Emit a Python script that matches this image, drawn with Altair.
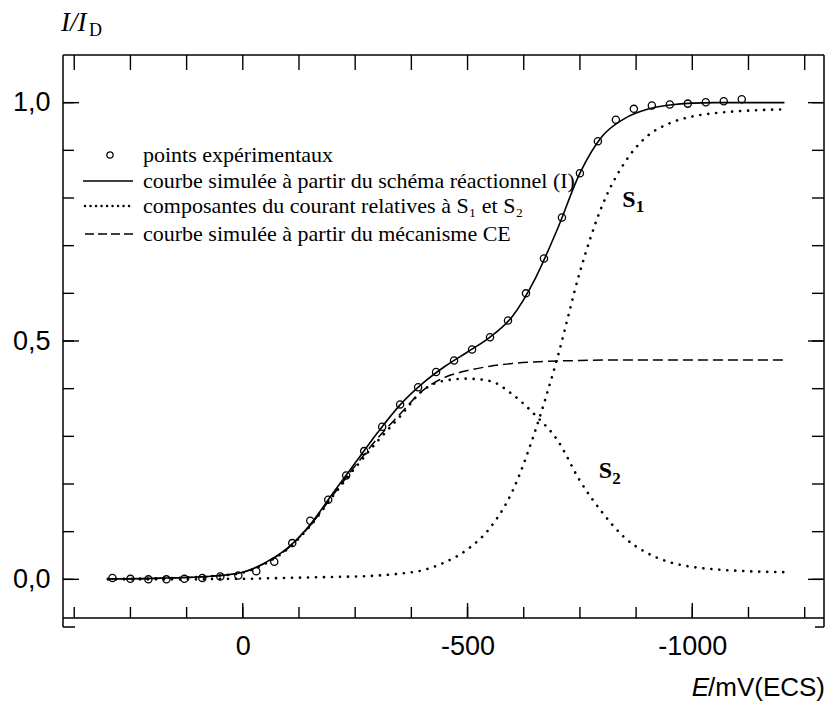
import altair as alt
import pandas as pd

# ---------------- data ----------------
# experimental points (E in mV vs ECS, I/ID)
E_PTS = [290, 250, 210, 170, 130, 90, 50, 10, -30, -70, -110, -150, -190, -230,
         -270, -310, -350, -390, -430, -470, -510, -550, -590, -630, -670, -710,
         -750, -790, -830, -870, -910, -950, -990, -1030, -1070, -1110]
I_PTS = [0.003, 0.001, 0.000, 0.000, 0.001, 0.003, 0.006, 0.008, 0.017, 0.037,
         0.076, 0.123, 0.167, 0.218, 0.269, 0.320, 0.367, 0.403, 0.435, 0.459,
         0.482, 0.508, 0.543, 0.600, 0.673, 0.759, 0.852, 0.919, 0.964, 0.987,
         0.994, 0.996, 0.998, 1.001, 1.003, 1.007]

# simulated curves, sampled along E
E_CURVE = [300, 200, 100, 50, 0, -50, -100, -150, -200, -250, -300, -350, -400,
           -450, -500, -550, -600, -650, -700, -750, -800, -850, -900, -950,
           -1000, -1050, -1100, -1205]
I_SOLID = [0.001, 0.002, 0.005, 0.008, 0.015, 0.035, 0.066, 0.115, 0.180, 0.244,
           0.308, 0.366, 0.411, 0.447, 0.477, 0.508, 0.552, 0.630, 0.735, 0.852,
           0.930, 0.967, 0.986, 0.995, 0.999, 1.000, 1.000, 1.000]
I_CE = [0.001, 0.002, 0.005, 0.008, 0.015, 0.034, 0.065, 0.113, 0.176, 0.238,
        0.296, 0.347, 0.396, 0.424, 0.438, 0.447, 0.453, 0.456, 0.458, 0.459,
        0.460, 0.460, 0.460, 0.460, 0.460, 0.460, 0.460, 0.460]
I_S2 = [0.001, 0.002, 0.005, 0.008, 0.014, 0.033, 0.064, 0.112, 0.174, 0.234,
        0.290, 0.342, 0.396, 0.417, 0.421, 0.416, 0.388, 0.345, 0.292, 0.207,
        0.140, 0.087, 0.055, 0.036, 0.026, 0.021, 0.018, 0.015]
I_S1 = [0.000, 0.000, 0.000, 0.001, 0.001, 0.002, 0.003, 0.004, 0.005, 0.006,
        0.008, 0.012, 0.019, 0.036, 0.063, 0.108, 0.185, 0.310, 0.465, 0.645,
        0.785, 0.875, 0.930, 0.957, 0.971, 0.978, 0.982, 0.986]

# axis ticks
Y_TICKS = [0.0, 0.1, 0.2, 0.3, 0.4, 0.5, 0.6, 0.7, 0.8, 0.9, 1.0]
Y_MAJOR = [0.0, 0.5, 1.0]
X_TICKS = [375, 250, 125, 0, -125, -250, -375, -500, -625, -750, -875, -1000,
           -1125, -1250]
X_MAJOR = [0, -500, -1000]

LEGEND_LABELS = [
    "points expérimentaux",
    "courbe simulée à partir du schéma réactionnel (I)",
    "composantes du courant relatives à S₁ et S₂",
    "courbe simulée à partir du mécanisme CE",
]

# ---------------- chart ----------------
W, H = 761, 572
AX_Y = H - 9  # position of x-axis line (pixels from top of plot)
SANS = "Liberation Sans"
SERIF = "Liberation Serif"

xscale = alt.Scale(domain=[400, -1293], nice=False, zero=False)
yscale = alt.Scale(domain=[-0.1, 1.1], nice=False, zero=False)

x_axis = alt.Axis(values=X_MAJOR,
                  labelExpr="datum.value == 0 ? '0' : '-' + format(abs(datum.value), 'd')",
                  ticks=False, domain=False, grid=False, title=None,
                  labelFont=SANS, labelFontSize=27, labelColor="black",
                  labelPadding=15, offset=-9, labelFlush=False, labelOverlap=False)
y_axis = alt.Axis(values=Y_MAJOR,
                  labelExpr="replace(format(datum.value, '.1f'), '.', ',')",
                  ticks=False, domain=False, grid=False, title=None,
                  labelFont=SANS, labelFontSize=27, labelColor="black",
                  labelPadding=13, labelFlush=False, labelOverlap=False)


def X(field="E"):
    return alt.X(f"{field}:Q", scale=xscale, axis=x_axis)


def Y(field="I"):
    return alt.Y(f"{field}:Q", scale=yscale, axis=y_axis)


pts = pd.DataFrame({"E": E_PTS, "I": I_PTS})
curves = pd.DataFrame({"E": E_CURVE, "solid": I_SOLID, "ce": I_CE,
                       "s1": I_S1, "s2": I_S2})

layers = []

# curves
layers.append(alt.Chart(curves).mark_line(color="black", strokeWidth=1.6,
                                          interpolate="monotone")
              .encode(x=X(), y=Y("solid")))
layers.append(alt.Chart(curves).mark_line(color="black", strokeWidth=1.5,
                                          strokeDash=[10, 5], interpolate="monotone")
              .encode(x=X(), y=Y("ce")))
for key in ["s1", "s2"]:
    layers.append(alt.Chart(curves).mark_line(color="black", strokeWidth=2.6,
                                              strokeDash=[0.1, 7.9], strokeCap="round",
                                              interpolate="monotone")
                  .encode(x=X(), y=Y(key)))

# experimental points
layers.append(alt.Chart(pts).mark_point(shape="circle", filled=False, size=52,
                                        color="black", strokeWidth=1.3, opacity=1)
              .encode(x=X(), y=Y()))

# ---- ticks (inward) ----
yt = pd.DataFrame({"I": Y_TICKS})
ym = pd.DataFrame({"I": Y_MAJOR})
xt = pd.DataFrame({"E": X_TICKS})
xm = pd.DataFrame({"E": X_MAJOR})
TW = 1.4
layers.append(alt.Chart(yt).mark_rule(color="black", strokeWidth=TW)
              .encode(y=Y(), x=alt.value(0), x2=alt.value(11)))
layers.append(alt.Chart(ym).mark_rule(color="black", strokeWidth=TW)
              .encode(y=Y(), x=alt.value(0), x2=alt.value(16)))
layers.append(alt.Chart(yt).mark_rule(color="black", strokeWidth=TW)
              .encode(y=Y(), x=alt.value(W), x2=alt.value(W - 12)))
layers.append(alt.Chart(ym).mark_rule(color="black", strokeWidth=TW)
              .encode(y=Y(), x=alt.value(W), x2=alt.value(W - 16)))
layers.append(alt.Chart(xt).mark_rule(color="black", strokeWidth=TW)
              .encode(x=X(), y=alt.value(0), y2=alt.value(15)))
layers.append(alt.Chart(xt).mark_rule(color="black", strokeWidth=TW)
              .encode(x=X(), y=alt.value(AX_Y), y2=alt.value(AX_Y - 11)))
layers.append(alt.Chart(xm).mark_rule(color="black", strokeWidth=TW)
              .encode(x=X(), y=alt.value(AX_Y), y2=alt.value(AX_Y - 15)))

# ---- frame ----
FW = 1.5
frame = [
    dict(x=alt.value(0), y=alt.value(0), y2=alt.value(H)),
    dict(x=alt.value(W), y=alt.value(0), y2=alt.value(H)),
    dict(x=alt.value(0), x2=alt.value(W), y=alt.value(0)),
    dict(x=alt.value(0), x2=alt.value(W), y=alt.value(AX_Y)),
    dict(x=alt.value(0), x2=alt.value(12), y=alt.value(H)),
    dict(x=alt.value(W - 9), x2=alt.value(W), y=alt.value(H)),
]
for enc in frame:
    layers.append(alt.Chart().mark_rule(color="black", strokeWidth=FW).encode(**enc))

# ---- curve labels S1 / S2 ----
for lab, e, v, sub, dx, dy in [("S", -844, 0.782, "1", 13.5, 5),
                               ("S", -792, 0.213, "2", 13.5, 6)]:
    layers.append(alt.Chart().mark_text(text=lab, font=SERIF, fontSize=24,
                                        fontWeight="bold", align="left",
                                        baseline="alphabetic", color="black")
                  .encode(x=alt.X(datum=e, scale=xscale, axis=x_axis),
                          y=alt.Y(datum=v, scale=yscale, axis=y_axis)))
    layers.append(alt.Chart().mark_text(text=sub, font=SERIF, fontSize=17,
                                        fontWeight="bold", align="left",
                                        baseline="alphabetic", color="black",
                                        dx=dx, dy=dy)
                  .encode(x=alt.X(datum=e, scale=xscale, axis=x_axis),
                          y=alt.Y(datum=v, scale=yscale, axis=y_axis)))

# ---- legend (drawn by hand) ----
LX0, LX1, LTX = 20, 70, 80
row_sym = [100, 126, 151, 179]
row_base = [107, 133, 158, 186]
layers.append(alt.Chart().mark_point(shape="circle", filled=False, size=40,
                                     color="black", strokeWidth=1.3, opacity=1)
              .encode(x=alt.value(47), y=alt.value(row_sym[0])))
layers.append(alt.Chart().mark_rule(color="black", strokeWidth=1.6)
              .encode(x=alt.value(LX0), x2=alt.value(LX1), y=alt.value(row_sym[1])))
layers.append(alt.Chart().mark_rule(color="black", strokeWidth=2.4,
                                    strokeDash=[0.1, 5.4], strokeCap="round")
              .encode(x=alt.value(LX0 + 2), x2=alt.value(LX1), y=alt.value(row_sym[2])))
layers.append(alt.Chart().mark_rule(color="black", strokeWidth=1.5, strokeDash=[9, 4])
              .encode(x=alt.value(LX0 + 2), x2=alt.value(LX1), y=alt.value(row_sym[3])))
for lab, yb in zip(LEGEND_LABELS, row_base):
    layers.append(alt.Chart().mark_text(text=lab, font=SERIF, fontSize=22,
                                        align="left", baseline="alphabetic",
                                        color="black")
                  .encode(x=alt.value(LTX), y=alt.value(yb)))

# ---- axis titles ----
layers.append(alt.Chart().mark_text(text="I/I", font=SERIF, fontSize=27,
                                    fontStyle="italic", align="left",
                                    baseline="alphabetic", color="black")
              .encode(x=alt.value(-2), y=alt.value(-24)))
layers.append(alt.Chart().mark_text(text="D", font=SERIF, fontSize=18,
                                    align="left", baseline="alphabetic",
                                    color="black")
              .encode(x=alt.value(26), y=alt.value(-19)))
layers.append(alt.Chart().mark_text(text="/mV(ECS)", font=SANS, fontSize=26,
                                    align="right", baseline="alphabetic",
                                    color="black")
              .encode(x=alt.value(W + 1), y=alt.value(641)))
layers.append(alt.Chart().mark_text(text="E", font=SANS, fontSize=26,
                                    fontStyle="italic", align="right",
                                    baseline="alphabetic", color="black")
              .encode(x=alt.value(W + 1 - 116), y=alt.value(641)))

chart = (alt.layer(*layers)
         .properties(width=W, height=H,
                     autosize=alt.AutoSizeParams(type="none"),
                     padding={"left": 63, "top": 55, "right": 5, "bottom": 80},
                     background="white")
         .configure_view(stroke=None))

chart.save("out.html", embed_options={"renderer": "svg", "actions": False})
